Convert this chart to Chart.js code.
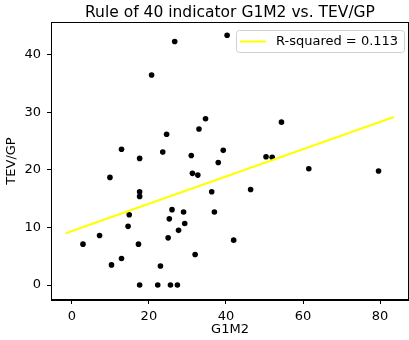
<!DOCTYPE html>
<html>
<head>
<meta charset="utf-8">
<script src="https://cdn.jsdelivr.net/npm/chart.js@4.4.0/dist/chart.umd.min.js"></script>
<style>
    html, body { margin: 0; padding: 0; background: #fff; overflow: hidden; }
    canvas { display: block; }
</style>
</head>
<body>
<canvas id="scatterChart" width="409" height="340"></canvas>
<script>
// G1M2 (x) und TEV/GP (y) je Unternehmen
const g1m2 = [26.7, 40.3, 20.7, 34.7, 33.0, 24.6, 12.9, 23.6, 17.6, 31.0,
              39.3, 54.4, 50.4, 52.0, 38.0, 31.3, 32.7, 9.9, 17.6, 17.6,
              36.3, 37.0, 26.0, 29.0, 14.9, 25.3, 29.3, 14.6, 27.7, 7.2,
              25.0, 2.9, 17.3, 32.0, 12.9, 10.3, 23.0, 17.6, 22.3, 25.6,
              27.4, 61.5, 79.6, 46.4, 42.0];
const tevGp = [42.3, 43.4, 36.5, 28.9, 27.1, 26.2, 23.6, 23.1, 22.0, 22.5,
               23.4, 28.3, 22.3, 22.2, 21.3, 19.4, 19.1, 18.7, 16.2, 15.4,
               16.2, 12.7, 13.1, 12.7, 12.2, 11.5, 10.7, 10.2, 9.5, 8.6,
               8.2, 7.1, 7.1, 5.3, 4.6, 3.5, 3.3, 0, 0, 0,
               0, 20.2, 19.8, 16.6, 7.8];

// Regressionsgerade (Endpunkte)
const fitX = [-1.6, 83.6];
const fitY = [9.0, 29.2];
const fitLabel = 'R-squared = 0.113';
const chartTitle = 'Rule of 40 indicator G1M2 vs. TEV/GP';

const xTicks = [0, 20, 40, 60, 80];
const yTicks = [0, 10, 20, 30, 40];

const FONT = 'DejaVu Sans';
Chart.defaults.font.family = FONT;
Chart.defaults.color = '#000';

// Titel über der Zeichenfläche, Rahmen, Legende oben rechts
const framePlugin = {
    id: 'frame',
    afterDatasetsDraw(chart) {
        const { ctx, chartArea: a } = chart;
        ctx.save();
        ctx.strokeStyle = '#000';
        ctx.lineWidth = 1;
        ctx.strokeRect(a.left + 0.5, a.top + 0.5, a.right - a.left - 1, a.bottom - a.top - 1);

        ctx.fillStyle = '#000';
        ctx.font = '15.5px ' + FONT;
        ctx.textAlign = 'center';
        ctx.textBaseline = 'alphabetic';
        ctx.fillText(chartTitle, (a.left + a.right) / 2, 17);

        // Legende
        const ds = chart.data.datasets[1];
        const x0 = 236, y0 = 30, w = 168, h = 22;
        ctx.beginPath();
        ctx.roundRect(x0 + 0.5, y0 + 0.5, w, h, 3);
        ctx.fillStyle = 'rgba(255,255,255,0.8)';
        ctx.fill();
        ctx.strokeStyle = '#d0d0d0';
        ctx.lineWidth = 1;
        ctx.stroke();
        ctx.beginPath();
        ctx.moveTo(x0 + 4, y0 + 11.5);
        ctx.lineTo(x0 + 30, y0 + 11.5);
        ctx.strokeStyle = ds.borderColor;
        ctx.lineWidth = 2;
        ctx.stroke();
        ctx.fillStyle = '#000';
        ctx.font = '13px ' + FONT;
        ctx.textAlign = 'left';
        ctx.textBaseline = 'middle';
        ctx.fillText(ds.label, x0 + 40, y0 + 12);
        ctx.restore();
    }
};

const ctx = document.getElementById('scatterChart').getContext('2d');
new Chart(ctx, {
    type: 'scatter',
    data: {
        datasets: [{
            label: 'points',
            data: g1m2.map((x, i) => ({ x, y: tevGp[i] })),
            backgroundColor: '#000',
            borderColor: '#000',
            pointRadius: 2.8,
            pointBorderWidth: 0,
            order: 2
        }, {
            type: 'line',
            label: fitLabel,
            data: fitX.map((x, i) => ({ x, y: fitY[i] })),
            borderColor: '#ffff00',
            borderWidth: 2,
            pointRadius: 0,
            fill: false,
            order: 1
        }]
    },
    options: {
        responsive: false,
        animation: false,
        layout: { autoPadding: false, padding: { left: 0, right: 0, top: 22, bottom: 0 } },
        plugins: {
            legend: { display: false },
            tooltip: { enabled: false },
            title: { display: false }
        },
        scales: {
            x: {
                type: 'linear',
                min: -5.4,
                max: 87.5,
                afterBuildTicks: s => { s.ticks = xTicks.map(v => ({ value: v })); },
                afterFit: s => { s.height = 40; s.paddingLeft = 0; s.paddingRight = 0; },
                grid: { drawOnChartArea: false, drawTicks: true, tickLength: 4, color: '#000' },
                border: { display: true, color: '#000' },
                ticks: { font: { size: 13 }, padding: 5, maxRotation: 0 },
                title: { display: true, text: 'G1M2', font: { size: 13 }, padding: { top: 0, bottom: 3 } }
            },
            y: {
                type: 'linear',
                min: -2.6,
                max: 45.7,
                afterBuildTicks: s => { s.ticks = yTicks.map(v => ({ value: v })); },
                afterFit: s => { s.width = 51; s.paddingTop = 0; s.paddingBottom = 0; },
                grid: { drawOnChartArea: false, drawTicks: true, tickLength: 4, color: '#000' },
                border: { display: true, color: '#000' },
                ticks: { font: { size: 13 }, padding: 6 },
                title: { display: true, text: 'TEV/GP', font: { size: 13 }, padding: { top: 4, bottom: 0 } }
            }
        }
    },
    plugins: [framePlugin]
});
</script>
</body>
</html>
